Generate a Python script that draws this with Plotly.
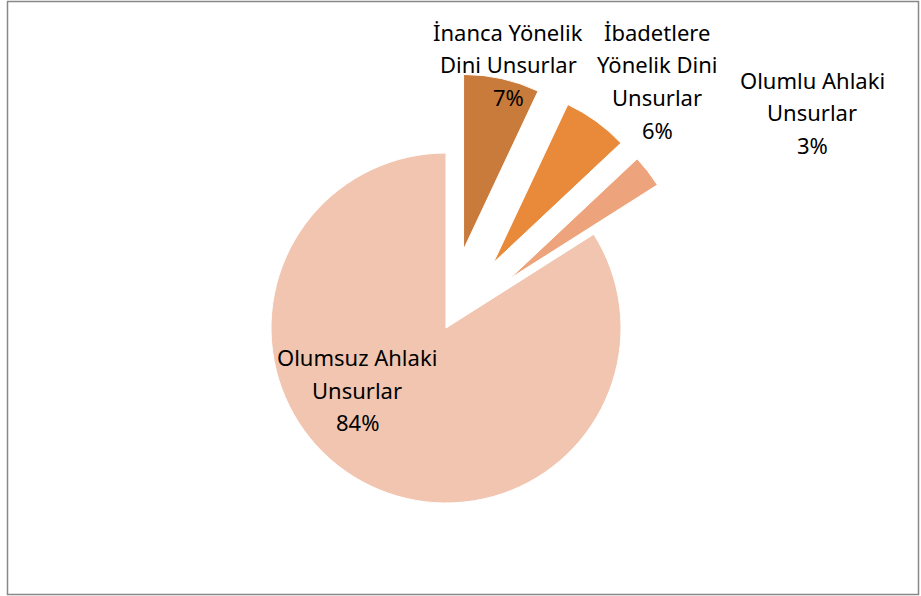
import plotly.graph_objects as go

# data
labels = ["İnanca Yönelik Dini Unsurlar", "İbadetlere Yönelik Dini Unsurlar",
          "Olumlu Ahlaki Unsurlar", "Olumsuz Ahlaki Unsurlar"]
label_lines = [["İnanca Yönelik", "Dini Unsurlar"],
               ["İbadetlere", "Yönelik Dini", "Unsurlar"],
               ["Olumlu Ahlaki", "Unsurlar"],
               ["Olumsuz Ahlaki", "Unsurlar"]]
values = [7, 6, 3, 84]
pulls = [0.46, 0.46, 0.46, 0]
colors = ["#c97b3c", "#e98a3b", "#eda47c", "#f1c5b0"]

W, H = 921, 596


def px(x):
    return x / W


def py(y):
    return 1 - y / H


# pie centre / radius in pixels
cx, cy, r = 446, 328, 175
half = r * (1 + max(pulls))

fig = go.Figure(go.Pie(
    labels=labels, values=values, sort=False, direction="clockwise",
    pull=pulls, marker=dict(colors=colors, line=dict(color="white", width=1)),
    textinfo="none", hoverinfo="skip", showlegend=False,
    domain=dict(x=[px(cx - half), px(cx + half)], y=[py(cy + half), py(cy - half)]),
))

# label blocks (centre x, first line y) in pixels
label_pos = [(508, 32), (657, 32), (812, 80), (357, 357)]
line_gap = 32.5
total = sum(values)
for lines, v, (lx, ly) in zip(label_lines, values, label_pos):
    pct = "{:.0f}%".format(v / total * 100)
    for i, t in enumerate(lines + [pct]):
        fig.add_annotation(x=px(lx), y=py(ly + i * line_gap), xref="paper", yref="paper",
                           text=t, showarrow=False, xanchor="center", yanchor="middle",
                           font=dict(family="Noto Sans", size=22, color="#000000"))

# outer chart frame
fig.add_shape(type="rect", xref="paper", yref="paper",
              x0=px(7.5), x1=px(918.5), y0=py(594.5), y1=py(1.5),
              line=dict(color="#888888", width=1.5))

fig.update_layout(width=W, height=H, margin=dict(l=0, r=0, t=0, b=0),
                  paper_bgcolor="white", plot_bgcolor="white")

fig.write_html("out.html", config={"displayModeBar": False},
               post_script="document.body.style.margin='0';")
